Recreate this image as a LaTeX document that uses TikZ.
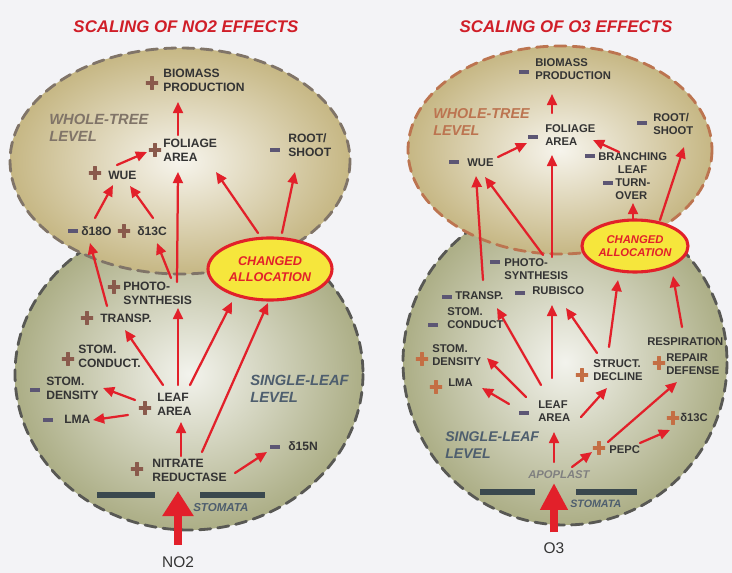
\documentclass[tikz,border=0pt]{standalone}
\usepackage{fontspec}
\setmainfont{Liberation Sans}
\usetikzlibrary{arrows.meta}
\usetikzlibrary{calc}
\usetikzlibrary{shapes.geometric}

\definecolor{bgcol}{RGB}{243,243,246}
\definecolor{khaki}{RGB}{198,183,132}
\definecolor{olive}{RGB}{172,174,134}
\definecolor{arrred}{RGB}{226,32,42}
\definecolor{ttlred}{RGB}{208,30,40}
\definecolor{txtgray}{RGB}{52,52,52}
\definecolor{plusL}{RGB}{138,90,76}
\definecolor{plusR}{RGB}{196,110,68}
\definecolor{minuscol}{RGB}{92,86,116}
\definecolor{treeL}{RGB}{128,116,104}
\definecolor{treeR}{RGB}{188,116,80}
\definecolor{leafcol}{RGB}{78,94,110}
\definecolor{edgegray}{RGB}{88,88,84}
\definecolor{barcol}{RGB}{58,72,78}
\definecolor{apocol}{RGB}{128,128,128}
\definecolor{allocY}{RGB}{246,230,60}

\begin{document}
\begin{tikzpicture}[x=0.025cm, y=-0.025cm, line cap=round,
    lbl/.style={font=\bfseries\fontsize{8.6}{10}\selectfont, text=txtgray, align=left, inner sep=0pt, anchor=west},
    lblR/.style={lbl, font=\bfseries\fontsize{8}{9.5}\selectfont},
    lvl/.style={font=\bfseries\itshape\fontsize{10.5}{12.5}\selectfont, align=left, inner sep=0pt, anchor=west},
    ttl/.style={font=\bfseries\itshape\fontsize{12}{14}\selectfont, text=ttlred, inner sep=0pt},
    stm/.style={font=\bfseries\itshape\fontsize{8.2}{10}\selectfont, text=leafcol, inner sep=0pt, anchor=west},
    gas/.style={font=\fontsize{11}{13}\selectfont, text=txtgray, inner sep=1pt},
    alloc/.style={ellipse, draw=arrred, line width=2.2pt, fill=allocY, inner sep=0pt, align=center, text=arrred, font=\bfseries\itshape\fontsize{9}{11}\selectfont, minimum width=3.1cm, minimum height=1.55cm},
    arr/.style={arrred, line width=1.6pt, -{Triangle[length=2.8mm, width=2.5mm]}},
    big/.style={arrred, line width=5.5pt, line cap=butt, shorten <=7pt, -{Triangle[length=6.3mm, width=7.5mm]}},
    pls/.style={minimum size=0.31cm, inner sep=0pt, path picture={\draw[line width=2.4pt, #1] (path picture bounding box.north) -- (path picture bounding box.south) (path picture bounding box.west) -- (path picture bounding box.east);}},
    pls/.default=plusL,
    mns/.style={fill=minuscol, minimum width=0.23cm, minimum height=0.1cm, inner sep=0pt},
    rim/.style={line width=2pt, dash pattern=on 8pt off 5pt}]
    % NO2 와 O3 영향의 스케일링
    \fill[bgcol] (0,0) rectangle (732,573);

    % NO2
    \draw[rim, draw=edgegray, inner color=white!85!olive, outer color=olive] (189,374) ellipse [x radius=174, y radius=156];
    \draw[rim, draw=treeL, inner color=white!85!khaki, outer color=khaki] (180,161) ellipse [x radius=170, y radius=113];
    \fill[barcol] (97,492) rectangle (155,498);
    \fill[barcol] (200,492) rectangle (265,498);

    \node[ttl] (ttlL) at (186,27) {SCALING OF NO2 EFFECTS};
    \node[lvl, text=treeL] (treeLvlL) at (49,128) {WHOLE-TREE\\LEVEL};
    \node[lbl] (bioL) at (163,80) {BIOMASS\\PRODUCTION};
    \node[pls] (sBioL) at (152,83) {};
    \node[lbl] (folL) at (163,150) {FOLIAGE\\AREA};
    \node[pls] (sFolL) at (155,150) {};
    \node[lbl] (rootL) at (288,145) {ROOT/\\SHOOT};
    \node[mns] (sRootL) at (275,150) {};
    \node[lbl] (wueL) at (108,175) {WUE};
    \node[pls] (sWueL) at (95,173) {};
    \node[lbl] (d18L) at (81,231) {δ18O};
    \node[mns] (sD18L) at (73,231) {};
    \node[lbl] (d13L) at (137,231) {δ13C};
    \node[pls] (sD13L) at (124,231) {};
    \node[alloc] (chgL) at (270,269) {CHANGED\\ALLOCATION};
    \node[lbl] (phoL) at (123,293) {PHOTO-\\SYNTHESIS};
    \node[pls] (sPhoL) at (114,287) {};
    \node[lbl] (trL) at (100,318) {TRANSP.};
    \node[pls] (sTrL) at (87,318) {};
    \node[lbl] (conL) at (78,356) {STOM.\\CONDUCT.};
    \node[pls] (sConL) at (68,359) {};
    \node[lbl] (denL) at (46,388) {STOM.\\DENSITY};
    \node[mns] (sDenL) at (35,390) {};
    \node[lbl] (lmaL) at (64,419) {LMA};
    \node[mns] (sLmaL) at (48,420) {};
    \node[lbl] (leafL) at (157,404) {LEAF\\AREA};
    \node[pls] (sLeafL) at (145,408) {};
    \node[lvl, text=leafcol] (sglLvlL) at (250,389) {SINGLE-LEAF\\LEVEL};
    \node[lbl] (d15L) at (288,446) {δ15N};
    \node[mns] (sD15L) at (275,447) {};
    \node[lbl] (nitL) at (152,470) {NITRATE\\REDUCTASE};
    \node[pls] (sNitL) at (137,469) {};
    \node[stm] (stomL) at (193,508) {STOMATA};
    \node[gas] (no2) at (178,562) {NO2};
    \coordinate (inL) at (178,491);

    \draw[arr] ($(folL.west)+(15,-15)$) -- ($(bioL.west)+(15,22)$);
    \draw[arr] ($(wueL.west)+(9,-10)$) -- ($(folL.west)+(-16,2)$);
    \draw[arr] ($(d18L.west)+(14,-13)$) -- ($(wueL.west)+(5,10)$);
    \draw[arr] ($(d13L.west)+(16,-13)$) -- ($(wueL.west)+(22,11)$);
    \draw[arr] ($(chgL.center)+(-12,-36)$) -- ($(folL.west)+(53,22)$);
    \draw[arr] ($(chgL.center)+(12,-36)$) -- ($(rootL.west)+(7,27)$);
    \draw[arr] ($(phoL.west)+(54,-11)$) -- ($(folL.west)+(15,22)$);
    \draw[arr] ($(phoL.west)+(48,-15)$) -- ($(d13L.west)+(20,12)$);
    \draw[arr] ($(trL.west)+(7,-12)$) -- ($(d18L.west)+(9,12)$);
    \draw[arr] ($(leafL.west)+(6,-19)$) -- ($(trL.west)+(25,12)$);
    \draw[arr] ($(leafL.west)+(21,-19)$) -- ($(phoL.west)+(55,15)$);
    \draw[arr] ($(leafL.west)+(33,-19)$) -- ($(chgL.center)+(-38,33)$);
    \draw[arr] ($(nitL.west)+(50,-18)$) -- ($(chgL.center)+(-2,34)$);
    \draw[arr] ($(nitL.west)+(29,-14)$) -- ($(leafL.west)+(24,18)$);
    \draw[arr] ($(nitL.west)+(83,3)$) -- ($(d15L.west)+(-21,6)$);
    \draw[arr] ($(leafL.west)+(-22,-4)$) -- ($(denL.west)+(57,0)$);
    \draw[arr] ($(leafL.west)+(-29,11)$) -- ($(lmaL.west)+(29,1)$);
    \draw[big] (no2.north) -- (inL);

    % O3
    \draw[rim, draw=edgegray, inner color=white!85!olive, outer color=olive] (565,362) ellipse [x radius=162, y radius=163];
    \draw[rim, draw=treeR, inner color=white!85!khaki, outer color=khaki] (560,150) ellipse [x radius=152, y radius=104];
    \fill[barcol] (480,489) rectangle (535,495);
    \fill[barcol] (576,489) rectangle (637,495);

    \node[ttl] (ttlR) at (566,27) {SCALING OF O3 EFFECTS};
    \node[lvl, text=treeR, font=\bfseries\itshape\fontsize{10.2}{12.2}\selectfont] (treeLvlR) at (433,122) {WHOLE-TREE\\LEVEL};
    \node[lblR] (bioR) at (535,69) {BIOMASS\\PRODUCTION};
    \node[mns] (sBioR) at (524,72) {};
    \node[lblR] (folR) at (545,135) {FOLIAGE\\AREA};
    \node[mns] (sFolR) at (533,137) {};
    \node[lblR] (rootR) at (653,124) {ROOT/\\SHOOT};
    \node[mns] (sRootR) at (642,123) {};
    \node[lblR] (wueR) at (467,163) {WUE};
    \node[mns] (sWueR) at (454,162) {};
    \node[lblR, align=center] (brR) at (598,163) {BRANCHING\\LEAF};
    \node[mns] (sBrR) at (590,156) {};
    \node[lblR] (tovR) at (615,189) {TURN-\\OVER};
    \node[mns] (sTovR) at (608,183) {};
    \node[alloc, minimum width=2.65cm, minimum height=1.3cm, font=\bfseries\itshape\fontsize{8}{9.6}\selectfont] (chgR) at (635,246) {CHANGED\\ALLOCATION};
    \node[lblR] (phoR) at (504,269) {PHOTO-\\SYNTHESIS};
    \node[mns] (sPhoR) at (495,262) {};
    \node[lblR] (rubR) at (532,291) {RUBISCO};
    \node[mns] (sRubR) at (520,293) {};
    \node[lblR] (trR) at (455,296) {TRANSP.};
    \node[mns] (sTrR) at (447,297) {};
    \node[lblR] (conR) at (447,318) {STOM.\\CONDUCT};
    \node[mns] (sConR) at (433,325) {};
    \node[lblR] (denR) at (432,355) {STOM.\\DENSITY};
    \node[pls=plusR] (sDenR) at (422,359) {};
    \node[lblR] (lmaR) at (448,383) {LMA};
    \node[pls=plusR] (sLmaR) at (436,387) {};
    \node[lblR] (leafR) at (538,411) {LEAF\\AREA};
    \node[mns] (sLeafR) at (524,413) {};
    \node[lblR] (sdR) at (593,370) {STRUCT.\\DECLINE};
    \node[pls=plusR] (sSdR) at (582,375) {};
    \node[lblR] (resR) at (647,342) {RESPIRATION};
    \node[lblR] (repR) at (666,364) {REPAIR\\DEFENSE};
    \node[pls=plusR] (sRepR) at (659,363) {};
    \node[lblR] (d13R) at (680,417) {δ13C};
    \node[pls=plusR] (sD13R) at (673,418) {};
    \node[lvl, text=leafcol, font=\bfseries\itshape\fontsize{10}{12}\selectfont] (sglLvlR) at (445,445) {SINGLE-LEAF\\LEVEL};
    \node[lblR] (pepR) at (609,450) {PEPC};
    \node[pls=plusR] (sPepR) at (599,448) {};
    \node[stm, text=apocol, font=\bfseries\itshape\fontsize{8}{10}\selectfont] (apoR) at (528,475) {APOPLAST};
    \node[stm, font=\bfseries\itshape\fontsize{7.6}{9}\selectfont] (stomR) at (570,504) {STOMATA};
    \node[gas] (o3) at (554,548) {O3};
    \coordinate (inR) at (554,483);

    \draw[arr] ($(folR.west)+(7,-22)$) -- ($(bioR.west)+(17,25)$);
    \draw[arr] ($(wueR.west)+(31,-6)$) -- ($(folR.west)+(-18,8)$);
    \draw[arr] ($(brR.west)+(21,-11)$) -- ($(folR.west)+(48,5)$);
    \draw[arr] ($(phoR.west)+(48,-12)$) -- ($(folR.west)+(7,20)$);
    \draw[arr] ($(phoR.west)+(39,-14)$) -- ($(wueR.west)+(18,14)$);
    \draw[arr] ($(trR.west)+(28,-16)$) -- ($(wueR.west)+(9,13)$);
    \draw[arr] ($(chgR.center)+(-2,-26)$) -- ($(tovR.west)+(18,14)$);
    \draw[arr] ($(chgR.center)+(25,-26)$) -- ($(rootR.west)+(31,23)$);
    \draw[arr] ($(leafR.west)+(3,-26)$) -- ($(trR.west)+(42,12)$);
    \draw[arr] ($(leafR.west)+(14,-33)$) -- ($(rubR.west)+(20,14)$);
    \draw[arr] ($(leafR.west)+(-12,-14)$) -- ($(denR.west)+(55,3)$);
    \draw[arr] ($(leafR.west)+(-29,-7)$) -- ($(lmaR.west)+(34,5)$);
    \draw[arr] ($(leafR.west)+(43,6)$) -- ($(sdR.west)+(14,18)$);
    \draw[arr] ($(sdR.west)+(4,-17)$) -- ($(rubR.west)+(34,17)$);
    \draw[arr] ($(sdR.west)+(16,-23)$) -- ($(chgR.center)+(-17,34)$);
    \draw[arr] ($(resR.west)+(35,-15)$) -- ($(chgR.center)+(38,30)$);
    \draw[arr] ($(apoR.west)+(26,-13)$) -- ($(leafR.west)+(16,21)$);
    \draw[arr] ($(apoR.west)+(44,-8)$) -- ($(pepR.west)+(-17,2)$);
    \draw[arr] ($(pepR.west)+(-1,-8)$) -- ($(repR.west)+(11,18)$);
    \draw[arr] ($(pepR.west)+(31,-7)$) -- ($(d13R.west)+(-10,13)$);
    \draw[big, shorten <=6pt, -{Triangle[length=6.7mm, width=6.5mm]}] (o3.north) -- (inR);
\end{tikzpicture}
\end{document}
